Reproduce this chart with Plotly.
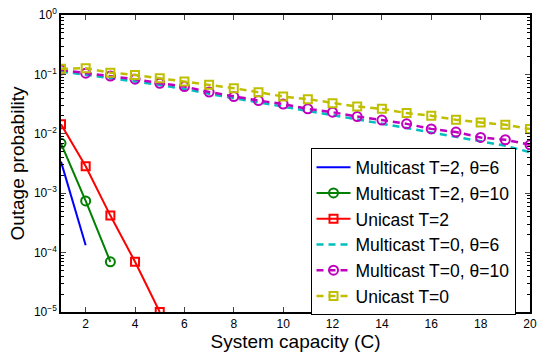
import plotly.graph_objects as go

x_all = list(range(1, 21))
x_mc6 = [1, 2]
y_mc6 = [3.4e-3, 1.33e-4]
x_mc10 = [1, 2, 3]
y_mc10 = [6.9e-3, 7.4e-4, 7.0e-5]
x_uc2 = [1, 2, 3, 4, 5]
y_uc2 = [1.45e-2, 2.85e-3, 4.2e-4, 7.0e-5, 1.0e-5]
y_mc0_6 = [0.112, 0.099, 0.087, 0.076, 0.066, 0.057, 0.047, 0.040, 0.034, 0.029,
           0.0245, 0.021, 0.0175, 0.0148, 0.0125, 0.0105, 0.0089, 0.0075, 0.0063, 0.0049]
y_mc0_10 = [0.119, 0.105, 0.094, 0.083, 0.071, 0.0625, 0.0505, 0.0424, 0.0363, 0.0316,
            0.0263, 0.0231, 0.0195, 0.0170, 0.0147, 0.0121, 0.0107, 0.00867, 0.00794, 0.00653]
y_uc0 = [0.124, 0.127, 0.107, 0.098, 0.086, 0.076, 0.0667, 0.0586, 0.050, 0.0424,
         0.0383, 0.0328, 0.0288, 0.0263, 0.0223, 0.0201, 0.0172, 0.0155, 0.0142, 0.0120]

fig = go.Figure()
fig.add_trace(go.Scatter(x=x_mc6, y=y_mc6, mode="lines", name="Multicast T=2, θ=6",
                         line=dict(color="#0000ff", width=2)))
fig.add_trace(go.Scatter(x=x_mc10, y=y_mc10, mode="lines+markers", name="Multicast T=2, θ=10",
                         line=dict(color="#008000", width=2),
                         marker=dict(symbol="circle-open", size=9, color="#008000", line=dict(width=2))))
fig.add_trace(go.Scatter(x=x_uc2, y=y_uc2, mode="lines+markers", name="Unicast T=2",
                         line=dict(color="#ff0000", width=2),
                         marker=dict(symbol="square-open", size=8, color="#ff0000", line=dict(width=2))))
fig.add_trace(go.Scatter(x=x_all, y=y_mc0_6, mode="lines", name="Multicast T=0, θ=6",
                         line=dict(color="#00bfbf", width=2.5, dash="7px,5px")))
fig.add_trace(go.Scatter(x=x_all, y=y_mc0_10, mode="lines+markers", name="Multicast T=0, θ=10",
                         line=dict(color="#bf00bf", width=2.5, dash="7px,5px"),
                         marker=dict(symbol="circle-open", size=9, color="#bf00bf", line=dict(width=2))))
fig.add_trace(go.Scatter(x=x_all, y=y_uc0, mode="lines+markers", name="Unicast T=0",
                         line=dict(color="#bfbf00", width=2.5, dash="7px,5px"),
                         marker=dict(symbol="square-open", size=8, color="#bfbf00", line=dict(width=2))))

ytv = [1e-5, 1e-4, 1e-3, 1e-2, 1e-1, 1]
ytt = ["10<sup>−5</sup>", "10<sup>−4</sup>", "10<sup>−3</sup>", "10<sup>−2</sup>", "10<sup>−1</sup>", "10<sup>0</sup>"]
minor_vals = [k * 10 ** e for e in range(-5, 0) for k in range(2, 10)]

font = "Liberation Sans, Arial, Helvetica, sans-serif"
fig.update_layout(
    width=543, height=352,
    margin=dict(l=61, r=6, t=15, b=40),
    paper_bgcolor="white", plot_bgcolor="white",
    font=dict(family=font, color="black", size=12),
    showlegend=True,
    legend=dict(x=0.532, y=0.551, xanchor="left", yanchor="top",
                bgcolor="white", bordercolor="black", borderwidth=1,
                font=dict(size=17.5, family=font), itemwidth=34),
    xaxis=dict(range=[1, 20], tickvals=list(range(2, 21, 2)), ticks="inside", ticklen=5,
               showline=True, linecolor="black", linewidth=1.5, mirror="ticks",
               showgrid=False, zeroline=False, tickfont=dict(size=12),
               title=dict(text="System capacity (C)", font=dict(size=19), standoff=0)),
    yaxis=dict(type="log", range=[-5, 0], tickvals=ytv, ticktext=ytt, ticks="inside", ticklen=5,
               showline=True, linecolor="black", linewidth=1.5, mirror="ticks",
               showgrid=False, zeroline=False, tickfont=dict(size=12),
               minor=dict(tickvals=minor_vals, ticks="inside", ticklen=3, tickcolor="black", showgrid=False),
               title=dict(text="Outage probability", font=dict(size=19), standoff=4)),
)
fig.write_html("out.html", config={"displayModeBar": False},
               post_script="document.body.style.margin='0';")
